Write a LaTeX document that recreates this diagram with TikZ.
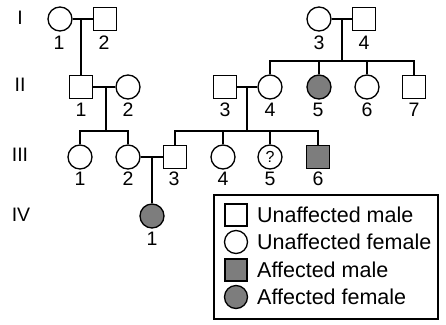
\documentclass[tikz,border=0pt]{standalone}
\usepackage{fontspec}
\setmainfont{Liberation Sans}
\definecolor{affgray}{RGB}{125,125,125}
\newcommand{\lblfont}{\fontsize{19.5}{22}\selectfont}
\newcommand{\qfont}{\fontsize{16}{18}\selectfont}
\newcommand{\legfont}{\fontsize{21.5}{25}\selectfont}
\begin{document}
\begin{tikzpicture}[x=1pt,y=-1pt,
  male/.style={draw, rectangle, minimum size=23pt, inner sep=0pt, line width=1.3pt, fill=white},
  female/.style={draw, circle, minimum size=24pt, inner sep=0pt, line width=1.3pt, fill=white},
  aff/.style={fill=affgray},
  lbl/.style={font=\lblfont, inner sep=0pt},
  leg/.style={font=\legfont, inner sep=0pt, anchor=west},
  link/.style={line width=1.3pt}]
\useasboundingbox (0,0) rectangle (446,324);
% generation numerals
\node[lbl] (gI) at (20,18) {I};
\node[lbl] (gII) at (20,85) {II};
\node[lbl] (gIII) at (20,155) {III};
\node[lbl] (gIV) at (21,215) {IV};
% Generation I
\node[female] (I1) at (60,19) {};
\node[male] (I2) at (105,19) {};
\node[female] (I3) at (319,19) {};
\node[male] (I4) at (364,19) {};
% Generation II
\node[male] (II1) at (81,87) {};
\node[female] (II2) at (128,87) {};
\node[male] (II3) at (225,87) {};
\node[female] (II4) at (270,87) {};
\node[female,aff] (II5) at (319,87) {};
\node[female] (II6) at (367,87) {};
\node[male] (II7) at (414,87) {};
% Generation III
\node[female] (III1) at (80,157) {};
\node[female] (III2) at (128,157) {};
\node[male] (III3) at (175,157) {};
\node[female] (III4) at (223,157) {};
\node[female, font=\qfont] (III5) at (270,157) {?};
\node[male,aff] (III6) at (318,157) {};
% Generation IV
\node[female,aff] (IV1) at (152,216) {};
% labels
\node[lbl] (lI1) at (59,43) {1};
\node[lbl] (lI2) at (104,43) {2};
\node[lbl] (lI3) at (319,43) {3};
\node[lbl] (lI4) at (364,43) {4};
\node[lbl] (lII1) at (81,110) {1};
\node[lbl] (lII2) at (128,110) {2};
\node[lbl] (lII3) at (225,110) {3};
\node[lbl] (lII4) at (270,110) {4};
\node[lbl] (lII5) at (318,110) {5};
\node[lbl] (lII6) at (367,110) {6};
\node[lbl] (lII7) at (414,110) {7};
\node[lbl] (lIII1) at (80,179) {1};
\node[lbl] (lIII2) at (128,179) {2};
\node[lbl] (lIII3) at (174,179) {3};
\node[lbl] (lIII4) at (223,179) {4};
\node[lbl] (lIII5) at (270,179) {5};
\node[lbl] (lIII6) at (318,179) {6};
\node[lbl] (lIV1) at (152,239) {1};
% couple lines
\draw[link] (I1) -- (I2);
\draw[link] (I3) -- (I4);
\draw[link] (II1) -- (II2);
\draw[link] (II3) -- (II4);
\draw[link] (III2) -- (III3);
% descent coordinates
\coordinate (mA) at (81,19);
\coordinate (mB) at (106,87);
\coordinate (sB) at (106,131);
\coordinate (mC) at (247,87);
\coordinate (sC) at (247,131);
\coordinate (mD) at (342,19);
\coordinate (sD) at (342,61);
\coordinate (mE) at (152,157);
% I1 x I2 -> II1
\draw[link] (mA) -- (II1.north);
% II1 x II2 -> III1, III2
\draw[link] (mB) -- (sB);
\draw[link] (III1.north) |- (sB) -| (III2.north);
% III2 x III3 -> IV1
\draw[link] (mE) -- (IV1.north);
% II3 x II4 -> III3..III6
\draw[link] (mC) -- (sC);
\draw[link] (III3.north) |- (sC) -| (III6.north);
\draw[link] (III4.north) -- (III4.north |- sC);
\draw[link] (III5.north) -- (III5.north |- sC);
% I3 x I4 -> II4..II7
\draw[link] (mD) -- (sD);
\draw[link] (II4.north) |- (sD) -| (II7.north);
\draw[link] (II5.north) -- (II5.north |- sD);
\draw[link] (II6.north) -- (II6.north |- sD);
% legend
\node[draw, line width=1.3pt, minimum width=224pt, minimum height=124pt, inner sep=0pt] (legbox) at (326,257) {};
\node[male, minimum size=22pt] (k1) at (236,215) {};
\node[female, minimum size=23pt] (k2) at (236,242) {};
\node[male, aff, minimum size=22pt] (k3) at (236,270) {};
\node[female, aff, minimum size=23pt] (k4) at (236,297) {};
\node[leg] (t1) at (257,215) {Unaffected male};
\node[leg] (t2) at (257,242) {Unaffected female};
\node[leg] (t3) at (257,270) {Affected male};
\node[leg] (t4) at (257,297) {Affected female};
\end{tikzpicture}
\end{document}
